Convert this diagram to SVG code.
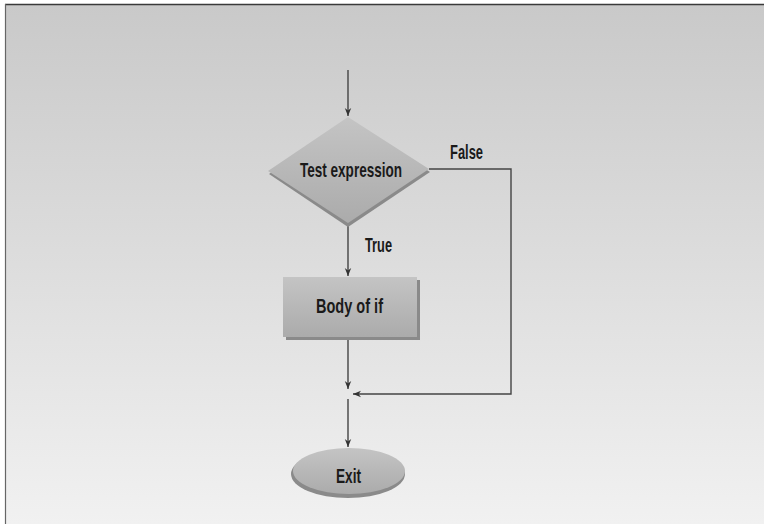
<svg xmlns="http://www.w3.org/2000/svg" width="764" height="524" viewBox="0 0 764 524">
<defs>
<linearGradient id="bg" x1="0" y1="0" x2="0" y2="1">
<stop offset="0" stop-color="#c9c9c9"/>
<stop offset="1" stop-color="#f1f1f1"/>
</linearGradient>
<linearGradient id="nodeFill" x1="0" y1="0" x2="0" y2="1">
<stop offset="0" stop-color="#c4c4c4"/>
<stop offset="1" stop-color="#ababab"/>
</linearGradient>
<marker id="arr" viewBox="0 0 10 10" refX="10" refY="5" markerWidth="8" markerHeight="8" markerUnits="userSpaceOnUse" orient="auto">
<path d="M0,1 L10,5 L0,9 L3,5 Z" fill="#333"/>
</marker>
<style>
.conn{fill:none;stroke:#444;stroke-width:1.4}
.lbl{font-family:"Liberation Sans",Arial,sans-serif;font-weight:bold;fill:#1a1a1a}
.shadow{fill:#8a8a8a}
.node{fill:url(#nodeFill)}
</style>
</defs>
<rect x="0" y="0" width="764" height="524" fill="#ffffff"/>
<rect x="5" y="4" width="759" height="520" fill="url(#bg)"/>
<line x1="5" y1="4.5" x2="764" y2="4.5" stroke="#3a3a3a" stroke-width="1.5"/>
<line x1="5.5" y1="4" x2="5.5" y2="524" stroke="#666" stroke-width="1.2"/>

<g id="connectors">
<line class="conn" x1="348" y1="70" x2="348" y2="116" marker-end="url(#arr)"/>
<line class="conn" x1="348" y1="224" x2="348" y2="276" marker-end="url(#arr)"/>
<polyline class="conn" points="429,169 511,169 511,394 353,394" marker-end="url(#arr)"/>
<line class="conn" x1="348" y1="340" x2="348" y2="389" marker-end="url(#arr)"/>
<line class="conn" x1="348" y1="399" x2="348" y2="447" marker-end="url(#arr)"/>
<text class="lbl" x="450" y="159" font-size="20" textLength="33" lengthAdjust="spacingAndGlyphs">False</text>
<text class="lbl" x="365" y="252" font-size="20" textLength="27" lengthAdjust="spacingAndGlyphs">True</text>
</g>

<g id="test">
<polygon class="shadow" points="348,120 430,172 348,227 269,174"/>
<polygon class="node" points="348,117 429,169 348,223 268,171"/>
<text class="lbl" x="300" y="177" font-size="21" textLength="102" lengthAdjust="spacingAndGlyphs">Test expression</text>
</g>

<g id="body">
<rect class="shadow" x="286" y="280" width="134" height="60"/>
<rect class="node" x="283" y="277" width="134" height="60"/>
<text class="lbl" x="316" y="313" font-size="21" textLength="67" lengthAdjust="spacingAndGlyphs">Body of if</text>
</g>

<g id="exit">
<ellipse class="shadow" cx="348" cy="474" rx="57" ry="24"/>
<ellipse class="node" cx="349" cy="471" rx="56" ry="23"/>
<text class="lbl" x="336" y="483" font-size="21" textLength="25" lengthAdjust="spacingAndGlyphs">Exit</text>
</g>
</svg>
